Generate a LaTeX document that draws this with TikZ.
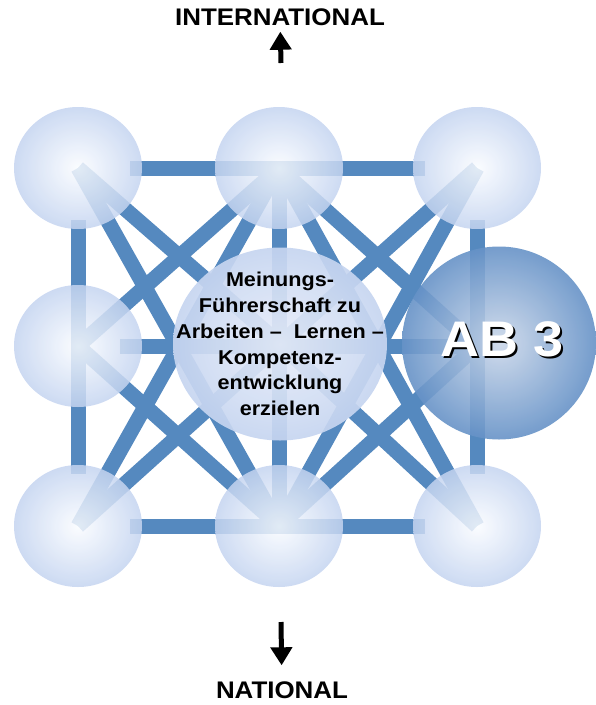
\documentclass[tikz,border=0pt]{standalone}
\usepackage{fontspec}
\usetikzlibrary{shapes.geometric,arrows.meta,backgrounds}
\newfontfamily\labelfont[FakeStretch=1.08]{Liberation Sans}
\definecolor{barblue}{RGB}{85,137,191}
\definecolor{ballout}{RGB}{196,212,240}
\definecolor{ballin}{RGB}{250,252,255}
\definecolor{hubout}{RGB}{198,213,240}
\definecolor{hubin}{RGB}{232,237,249}
\definecolor{about}{RGB}{102,146,199}
\definecolor{abin}{RGB}{204,216,234}

\begin{document}
\begin{tikzpicture}[x=1pt,y=-1pt,
        bar/.style={draw=barblue,line width=15pt},
        gridbar/.style={bar,shorten <=52pt,shorten >=52pt},
        ball/.style={ellipse,minimum width=128pt,minimum height=122pt,inner sep=0pt,
                     shading=radial,inner color=ballin,outer color=ballout,fill opacity=0.85},
        hub/.style={ellipse,minimum width=214pt,minimum height=193pt,inner sep=0pt,
                    shading=radial,inner color=hubin,outer color=hubout,fill opacity=0.92},
        abball/.style={ellipse,minimum width=194pt,minimum height=193pt,inner sep=0pt,
                       shading=radial,inner color=abin,outer color=about,fill opacity=0.9},
        hubtxt/.style={align=center,inner sep=0pt,font=\labelfont\bfseries\fontsize{20}{25.8}\selectfont},
        abtxt/.style={inner sep=0pt,font=\labelfont\bfseries\fontsize{50}{50}\selectfont},
        lbl/.style={inner sep=0pt,font=\labelfont\bfseries\fontsize{24}{24}\selectfont},
        pfeil/.style={line width=5pt,-{Triangle[width=21pt,length=18pt]}}
    ]
    \useasboundingbox (0,0) rectangle (596,705);

    % the nine places
    \node[ball] (tl) at (78,168)  {};
    \node[ball] (tm) at (279,168) {};
    \node[ball] (tr) at (477,168) {};
    \node[ball] (ml) at (78,346)  {};
    \coordinate (mr) at (477,346);
    \node[ball] (bl) at (78,526)  {};
    \node[ball] (bm) at (279,526) {};
    \node[ball] (br) at (477,526) {};

    \node[hub] (hub) at (280,344) {};
    \node[hubtxt] (hubtext) at (hub.center)
        {Meinungs-\\Führerschaft zu\\Arbeiten –~ Lernen –\\Kompetenz-\\entwicklung\\erzielen};

    \node[abball] (ab) at (499,343) {};
    \node[abtxt,text=black] (abshadow) at ([xshift=5pt,yshift=2pt]ab.center) {AB 3};
    \node[abtxt,text=white] (abtext) at ([xshift=3pt,yshift=4pt]ab.center) {AB 3};

    % Background
    \begin{scope}[on background layer]
        \draw[gridbar] (tl.center) -- (tr.center);
        \draw[gridbar] (bl.center) -- (br.center);
        \draw[gridbar] (tl.center) -- (bl.center);
        \draw[gridbar] (tr.center) -- (br.center);
        \draw[bar] (tm.center) -- (bm.center);
        \draw[bar,shorten <=42pt] (ml.center) -- (mr);
        \foreach \a/\b in {tl/hub,tr/hub,bl/hub,br/hub,tm/ml,tm/mr,bm/ml,bm/mr,tl/bm,tr/bm,bl/tm,br/tm}
            \draw[bar] (\a.center) -- (\b.center);
    \end{scope}

    % directions
    \node[lbl] (intl) at (280,17) {INTERNATIONAL};
    \node[lbl] (natl) at (282,690) {NATIONAL};
    \coordinate (upfoot) at (281,63);
    \coordinate (downfoot) at (281,622);
    \draw[pfeil,shorten >=6pt] (upfoot) -- (intl);
    \draw[pfeil,shorten >=16pt] (downfoot) -- (natl);
\end{tikzpicture}
\end{document}
